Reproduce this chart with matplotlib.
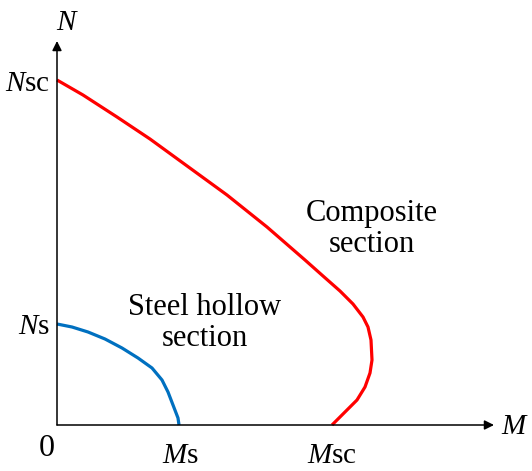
import matplotlib.pyplot as plt
import numpy as np

plt.rcParams['font.family'] = ['Liberation Serif', 'DejaVu Serif']
plt.rcParams['mathtext.fontset'] = 'custom'
plt.rcParams['mathtext.rm'] = 'Liberation Serif'
plt.rcParams['mathtext.it'] = 'Liberation Serif:italic'

# interaction curves (M, N), arbitrary units
m_comp = [0, 26, 60, 93, 126, 170, 210, 248, 266, 283, 296, 306, 311, 314, 315,
          313, 308, 300, 288, 275]
n_comp = [345, 330, 308, 286, 262, 230, 198, 165, 149, 134, 121, 108, 98, 85, 65,
          52, 38, 25, 13, 0]
m_steel = [0, 15, 31, 48, 65, 81, 95, 105, 111, 116, 121, 122]
n_steel = [101, 98, 93, 86, 77, 67, 57, 45, 33, 20, 7, 0]

fig = plt.figure(figsize=(5.32, 4.71), dpi=100)
ax = fig.add_axes([0, 0, 1, 1])
ax.set_xlim(-57, 475)
ax.set_ylim(-46, 425)
ax.axis('off')

# axes with arrows
ax.annotate('', xy=(437, 0), xytext=(0, 0),
            arrowprops=dict(arrowstyle='-|>', color='black', lw=1.1,
                            mutation_scale=14, shrinkA=0, shrinkB=0))
ax.annotate('', xy=(0, 384), xytext=(0, 0),
            arrowprops=dict(arrowstyle='-|>', color='black', lw=1.1,
                            mutation_scale=14, shrinkA=0, shrinkB=0))

ax.plot(m_comp, n_comp, color='#ff0000', lw=2.3, solid_capstyle='butt', solid_joinstyle='round')
ax.plot(m_steel, n_steel, color='#0070c0', lw=2.3, solid_capstyle='butt', solid_joinstyle='round')

fs = 21
ax.text(11, 402, r'$N$', fontsize=fs, ha='center', va='center')
ax.text(458, -2, r'$M$', fontsize=fs, ha='center', va='center')
ax.text(-7, 341, r'$N$sc', fontsize=fs, ha='right', va='center')
ax.text(-7, 98, r'$N$s', fontsize=fs, ha='right', va='center')
ax.text(-10, -24, '0', fontsize=fs + 2, ha='center', va='center')
ax.text(123, -31, r'$M$s', fontsize=fs, ha='center', va='center')
ax.text(275, -31, r'$M$sc', fontsize=fs, ha='center', va='center')

ax.text(315, 196, 'Composite\nsection', fontsize=22, ha='center', va='center',
        linespacing=1.1)
ax.text(148, 102, 'Steel hollow\nsection', fontsize=22, ha='center', va='center',
        linespacing=1.1)

fig.savefig('out.png', dpi=100)
